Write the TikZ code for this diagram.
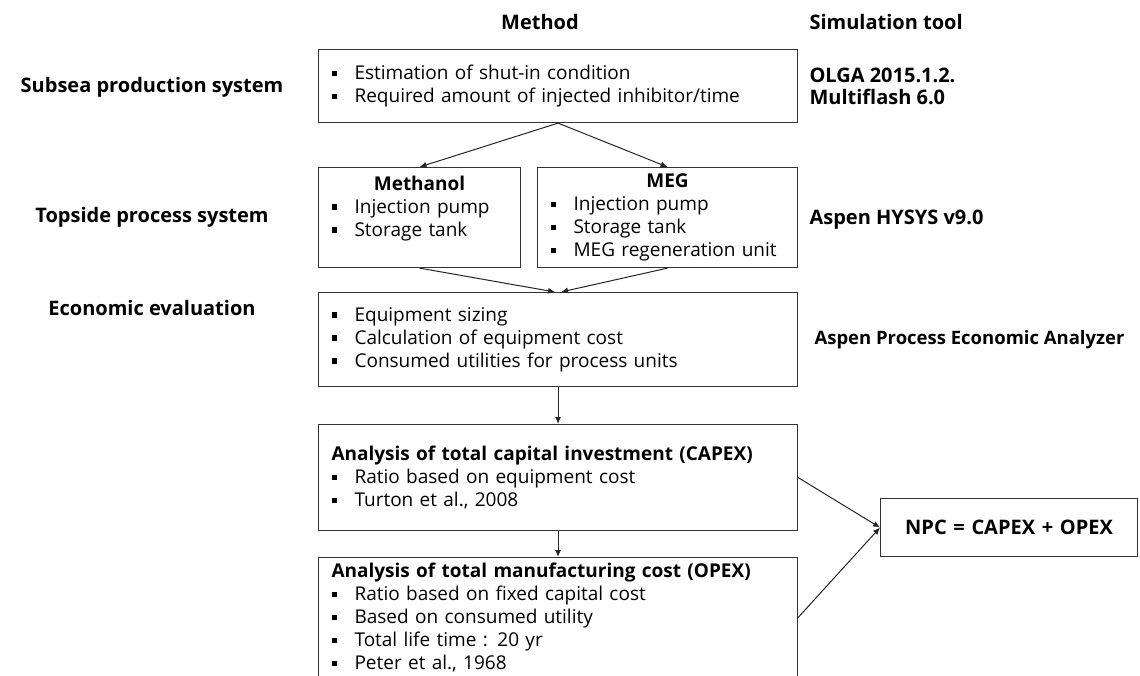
\documentclass[tikz,border=0pt]{standalone}
\usepackage{fontspec}
\setmainfont{Open Sans}
\usetikzlibrary{arrows.meta}
\newcommand{\bul}{\makebox[23pt][l]{\rule[3.5pt]{5.5pt}{5.5pt}}}

\begin{document}
\begin{tikzpicture}[x=1pt,y=-1pt]
  \tikzset{
    box/.style={
      draw=black!80,
      line width=1.1pt,
      anchor=north west,
      inner xsep=13pt,
      inner ysep=0pt,
      align=left,
      font=\fontsize{19}{23}\selectfont
    },
    head/.style={font=\bfseries\fontsize{20}{22}\selectfont},
    flow/.style={-{Latex[length=7pt,width=6pt]}, line width=1pt, draw=black!85}
  }
  \useasboundingbox (0,0) rectangle (1140,676);

  % column heads
  \node[head] (method) at (540,22) {Method};
  \node[head, anchor=west] (tool) at (806,22) {Simulation tool};

  % row labels
  \node[head] (subsea) at (152,87) {Subsea production system};
  \node[head] (topside) at (152,217) {Topside process system};
  \node[head] (econlab) at (152,308) {Economic evaluation};

  % method boxes
  \node[box, text width=453pt, minimum height=73pt] (top) at (318,49)
    {\bul Estimation of shut-in condition\\
     \bul Required amount of injected inhibitor/time};
  \node[box, text width=176pt, minimum height=100pt] (meth) at (318,167)
    {\makebox[176pt]{\bfseries Methanol}\\
     \bul Injection pump\\
     \bul Storage tank\\ ~};
  \node[box, text width=234pt, minimum height=100pt] (meg) at (537,167)
    {\makebox[234pt]{\bfseries MEG}\\
     \bul Injection pump\\
     \bul Storage tank\\
     \bul MEG regeneration unit};
  \node[box, text width=453pt, minimum height=94pt] (econ) at (318,292)
    {\bul Equipment sizing\\
     \bul Calculation of equipment cost\\
     \bul Consumed utilities for process units};
  \node[box, text width=453pt, minimum height=106pt] (capex) at (318,424)
    {\textbf{Analysis of total capital investment (CAPEX)}\\
     \bul Ratio based on equipment cost\\
     \bul Turton et al., 2008};
  \node[box, text width=453pt, minimum height=120pt] (opex) at (318,557)
    {\textbf{Analysis of total manufacturing cost (OPEX)}\\
     \bul Ratio based on fixed capital cost\\
     \bul Based on consumed utility\\
     \bul Total life time : 20 yr\\
     \bul Peter et al., 1968};
  \node[box, align=center, text width=231pt, minimum height=58pt,
        font=\bfseries\fontsize{20}{22}\selectfont] (npc) at (880,498)
    {NPC = CAPEX + OPEX};

  % tools
  \node[head, anchor=west, align=left] (olga) at (806,86)
    {OLGA 2015.1.2.\\ Multiflash 6.0};
  \node[head, anchor=west] (hysys) at (806,220) {Aspen HYSYS v9.0};
  \node[head, anchor=west, font=\bfseries\fontsize{18.5}{22}\selectfont] (apea)
    at (811,340) {Aspen Process Economic Analyzer};

  % arrows
  \draw[flow] (top.south) -- (meth.north);
  \draw[flow] (top.south) -- (meg.north);
  \draw[flow] (meth.south) -- ([xshift=-3pt]econ.north);
  \draw[flow] (meg.south) -- ([xshift=3pt]econ.north);
  \draw[flow] (econ.south) -- (capex.north);
  \draw[flow] (capex.south) -- (opex.north);
  \draw[flow] (capex.east) -- (npc.west);
  \draw[flow] (opex.east) -- (npc.west);
\end{tikzpicture}
\end{document}
